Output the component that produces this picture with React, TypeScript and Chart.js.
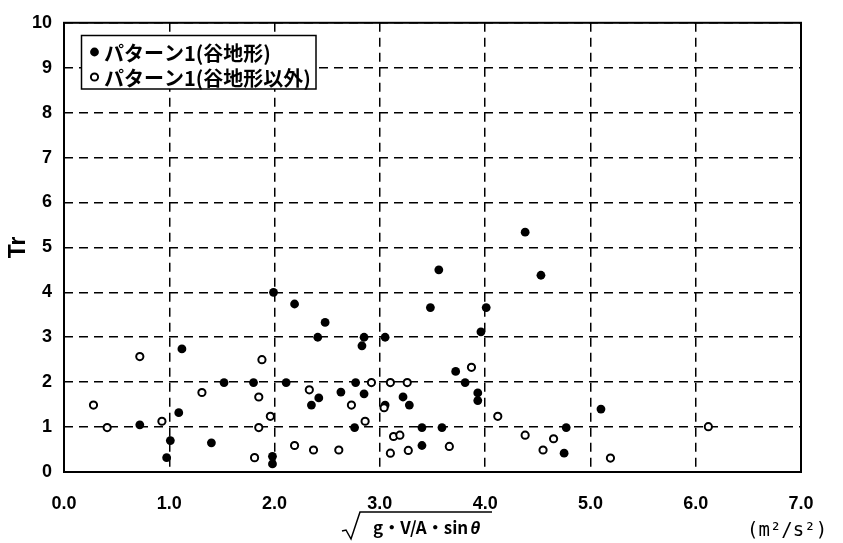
import { useEffect, useRef } from 'react';
import { Chart, registerables } from 'chart.js';

Chart.register(...registerables);

// X range and ticks
const xMin = 0;
const xMax = 7;
const yMin = 0;
const yMax = 10;

// Legend labels
const legendLabels = ['パターン1(谷地形)', 'パターン1(谷地形以外)'];

// パターン1(谷地形) — filled markers
const valleyX = [0.72, 0.975, 1.01, 1.09, 1.12, 1.40, 1.52, 1.80, 1.99, 1.98, 1.98, 2.11, 2.19, 2.35, 2.41, 2.42, 2.48, 2.63, 2.76, 2.77, 2.83, 2.85, 2.85, 3.05, 3.05, 3.22, 3.28, 3.40, 3.40, 3.48, 3.56, 3.59, 3.72, 3.81, 3.93, 3.93, 3.96, 4.01, 4.38, 4.53, 4.75, 4.77, 5.10];
const valleyY = [1.05, 0.32, 0.70, 1.32, 2.74, 0.65, 1.99, 1.99, 4.0, 0.35, 0.18, 1.99, 3.74, 1.49, 3.0, 1.65, 3.33, 1.78, 0.99, 1.99, 2.81, 3.0, 1.74, 3.0, 1.49, 1.67, 1.49, 0.99, 0.59, 3.66, 4.5, 0.99, 2.24, 1.99, 1.76, 1.59, 3.12, 3.66, 5.34, 4.38, 0.42, 0.99, 1.40];

// パターン1(谷地形以外) — open markers
const otherX = [0.28, 0.41, 0.72, 0.93, 1.31, 1.81, 1.85, 1.85, 1.88, 1.96, 2.19, 2.33, 2.37, 2.61, 2.73, 2.86, 2.92, 3.04, 3.10, 3.10, 3.13, 3.19, 3.26, 3.27, 3.66, 3.87, 4.12, 4.38, 4.55, 4.65, 5.19, 6.12];
const otherY = [1.49, 0.99, 2.57, 1.13, 1.77, 0.32, 1.67, 0.99, 2.5, 1.24, 0.59, 1.83, 0.49, 0.49, 1.49, 1.13, 1.99, 1.43, 1.99, 0.42, 0.79, 0.82, 1.99, 0.48, 0.57, 2.33, 1.24, 0.82, 0.49, 0.74, 0.31, 1.01];

const yTitle = 'Tr';
const xTitleMain = 'g・V/A・sin';
const xTitleTheta = 'θ';
const xUnit = '(m²/s²)';

const tickFont = { family: '"Liberation Sans", Arial, sans-serif', size: 18, weight: 'bold' as const };

const framePlugin = {
  id: 'frameAndLegend',
  afterDraw(chart: any) {
    const { ctx, chartArea: a } = chart;
    ctx.save();
    ctx.setLineDash([]);
    // frame
    ctx.strokeStyle = '#000';
    ctx.lineWidth = 2;
    ctx.strokeRect(a.left, a.top, a.right - a.left, a.bottom - a.top);

    // legend box
    const bx = 81.5, by = 35.5, bw = 234.5, bh = 53.5;
    ctx.fillStyle = '#fff';
    ctx.fillRect(bx, by, bw, bh);
    ctx.lineWidth = 1.5;
    ctx.strokeStyle = '#000';
    ctx.strokeRect(bx, by, bw, bh);

    const ds = chart.data.datasets;
    const rows = [
      { d: ds[1], y: 52 },
      { d: ds[0], y: 77 },
    ];
    ctx.font = 'bold 20px "Noto Sans CJK JP", sans-serif';
    ctx.textBaseline = 'middle';
    ctx.textAlign = 'left';
    for (const r of rows) {
      ctx.beginPath();
      ctx.arc(94.5, r.y, r.d.pointRadius, 0, Math.PI * 2);
      ctx.fillStyle = r.d.pointBackgroundColor;
      ctx.fill();
      if (r.d.pointBorderWidth > 0) {
        ctx.lineWidth = r.d.pointBorderWidth;
        ctx.strokeStyle = r.d.pointBorderColor;
        ctx.stroke();
      }
      ctx.fillStyle = '#000';
      ctx.fillText(r.d.label, 104, r.y + 1);
    }

    // x-axis title with radical sign
    ctx.strokeStyle = '#000';
    ctx.lineWidth = 1.5;
    ctx.beginPath();
    ctx.moveTo(342, 531);
    ctx.lineTo(346, 530);
    ctx.lineTo(351, 539);
    ctx.lineTo(360, 512);
    ctx.lineTo(492, 512);
    ctx.stroke();

    ctx.fillStyle = '#000';
    ctx.textBaseline = 'alphabetic';
    ctx.font = 'bold 17px "Noto Sans CJK JP", sans-serif';
    ctx.fillText(xTitleMain, 373, 534);
    const w = ctx.measureText(xTitleMain).width;
    ctx.font = 'italic bold 18px "Liberation Sans", sans-serif';
    ctx.fillText(xTitleTheta, 373 + w + 2, 534);

    ctx.font = '19px "DejaVu Sans Mono", monospace';
    ctx.fillText(xUnit, 747, 536);
    ctx.restore();
  },
};

export default function App() {
  const ref = useRef<HTMLCanvasElement>(null);
  useEffect(() => {
    const chart = new Chart(ref.current as HTMLCanvasElement, {
      type: 'scatter',
      data: {
        datasets: [
          {
            label: legendLabels[1],
            data: otherX.map((x, i) => ({ x, y: otherY[i] })),
            pointStyle: 'circle',
            pointRadius: 3.6,
            pointBorderWidth: 2,
            pointBackgroundColor: '#fff',
            pointBorderColor: '#000',
          } as any,
          {
            label: legendLabels[0],
            data: valleyX.map((x, i) => ({ x, y: valleyY[i] })),
            pointStyle: 'circle',
            pointRadius: 4.4,
            pointBorderWidth: 0,
            pointBackgroundColor: '#000',
            pointBorderColor: '#000',
          } as any,
        ],
      },
      options: {
        responsive: false,
        animation: false,
        layout: { padding: { top: 17, right: 42, left: 0, bottom: 0 } },
        plugins: { legend: { display: false }, tooltip: { enabled: false } },
        scales: {
          x: {
            type: 'linear',
            min: xMin,
            max: xMax,
            afterFit: (s: any) => { s.height = 71; },
            ticks: {
              stepSize: 1,
              callback: (v: any) => Number(v).toFixed(1),
              color: '#000',
              font: tickFont,
              padding: 21,
              maxRotation: 0,
              autoSkip: false,
            },
            grid: { color: '#000', lineWidth: 1.5, drawTicks: false },
            border: { display: false, dash: [9, 6] },
          },
          y: {
            type: 'linear',
            min: yMin,
            max: yMax,
            afterFit: (s: any) => { s.width = 64; },
            ticks: {
              stepSize: 1,
              callback: (v: any) => String(v),
              color: '#000',
              font: tickFont,
              padding: 12,
              autoSkip: false,
            },
            grid: { color: '#000', lineWidth: 1.5, drawTicks: false },
            border: { display: false, dash: [9, 6] },
            title: {
              display: true,
              text: yTitle,
              color: '#000',
              font: { family: '"Liberation Sans", Arial, sans-serif', size: 23, weight: 'bold' },
              padding: { top: 5, bottom: 0 },
            },
          },
        },
      },
      plugins: [framePlugin],
    });
    return () => chart.destroy();
  }, []);

  return (
    <div style={{ position: 'absolute', left: 0, top: 0, width: 843, height: 543, background: '#fff' }}>
      <canvas ref={ref} width={843} height={543} style={{ display: 'block' }} />
    </div>
  );
}
